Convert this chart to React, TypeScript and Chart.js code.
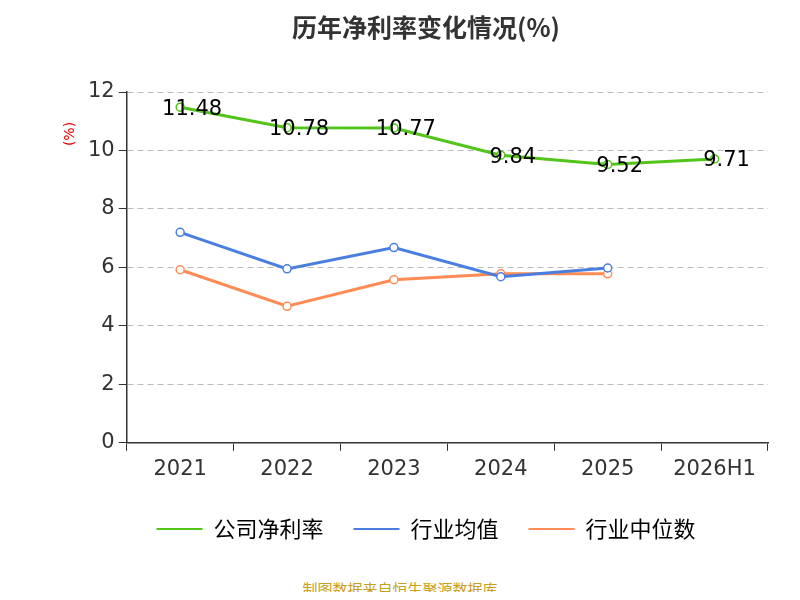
import React, { useEffect, useRef } from "react";
import { Chart, registerables } from "chart.js";
Chart.register(...registerables);

const categories = ["2021", "2022", "2023", "2024", "2025", "2026H1"];
const companyRate = [11.48, 10.78, 10.77, 9.84, 9.52, 9.71];
const industryAvg = [7.2, 5.95, 6.68, 5.68, 5.98, null];
const industryMedian = [5.92, 4.67, 5.58, 5.78, 5.78, null];
const yTicks = [0, 2, 4, 6, 8, 10, 12];

const labelPlugin = {
  id: "labels",
  afterDatasetsDraw(chart: any) {
    const ctx = chart.ctx;
    const meta = chart.getDatasetMeta(0);
    ctx.save();
    ctx.font = "21px 'DejaVu Sans'";
    ctx.fillStyle = "#000";
    ctx.textAlign = "center";
    ctx.textBaseline = "middle";
    meta.data.forEach((p: any, i: number) => {
      ctx.fillText(companyRate[i].toFixed(2), p.x + 12, p.y + 2);
    });
    ctx.restore();
    ctx.save();
    ctx.translate(62, 126);
    ctx.rotate(-Math.PI / 2);
    ctx.font = "14px 'DejaVu Sans'";
    ctx.fillStyle = "#e00000";
    ctx.textAlign = "center";
    ctx.textBaseline = "middle";
    ctx.fillText("(%)", 0, 0);
    ctx.restore();
  },
};

export default function App() {
  const ref = useRef<HTMLCanvasElement>(null);
  useEffect(() => {
    const mk = (label: string, data: any[], color: string) => ({
      label, data, borderColor: color, backgroundColor: "#fff",
      borderWidth: 3, pointRadius: 4, pointBorderWidth: 1.5, pointBorderColor: color,
      pointBackgroundColor: "#fff", tension: 0, spanGaps: false,
    });
    const chart = new Chart(ref.current!, {
      type: "line",
      data: {
        labels: categories,
        datasets: [
          mk("公司净利率", companyRate, "#52c41a"),
          mk("行业均值", industryAvg, "#4a7fe0"),
          mk("行业中位数", industryMedian, "#ff8c55"),
        ],
      },
      options: {
        animation: false,
        responsive: false,
        layout: { padding: { left: 76, right: 24, top: 0, bottom: 18 } },
        plugins: {
          title: {
            display: true, text: "历年净利率变化情况(%)",
            font: { size: 25, weight: "bold", family: "'Noto Sans CJK SC'" },
            color: "#333", padding: { top: 4, bottom: 50 },
          },
          legend: {
            position: "bottom",
            labels: {
              boxWidth: 46, boxHeight: 2, padding: 30,
              font: { size: 22, family: "'Noto Sans CJK SC'" }, color: "#333",
              generateLabels: (c: any) => c.data.datasets.map((d: any, i: number) => ({
                text: d.label, fillStyle: d.borderColor, strokeStyle: d.borderColor,
                lineWidth: 0, datasetIndex: i,
              })),
            },
          },
          tooltip: { enabled: false },
        },
        scales: {
          x: {
            offset: true,
            grid: { display: true, drawOnChartArea: false, offset: true, color: "#333", tickLength: 8 },
            border: { color: "#333", width: 1.5 },
            ticks: { font: { size: 21, family: "'DejaVu Sans'" }, color: "#333", padding: 6 },
          },
          y: {
            min: 0, max: 12,
            afterBuildTicks: (s: any) => { s.ticks = yTicks.map((v) => ({ value: v })); },
            grid: { color: "#bbb", tickLength: 8, tickColor: "#333" } as any,
            border: { color: "#333", width: 1.5, dash: [6, 4] } as any,
            ticks: { font: { size: 21, family: "'DejaVu Sans'" }, color: "#333", padding: 4 },
          },
        },
      },
      plugins: [labelPlugin],
    } as any);
    return () => chart.destroy();
  }, []);
  return (
    <div style={{ position: "relative", width: 784, height: 584 }}>
      <canvas ref={ref} width={784} height={560} />
      <div style={{ position: "absolute", top: 570, width: 784, textAlign: "center", color: "#c8a020", fontSize: 15, fontFamily: "'Noto Sans CJK SC'" }}>
        制图数据来自恒生聚源数据库
      </div>
    </div>
  );
}
